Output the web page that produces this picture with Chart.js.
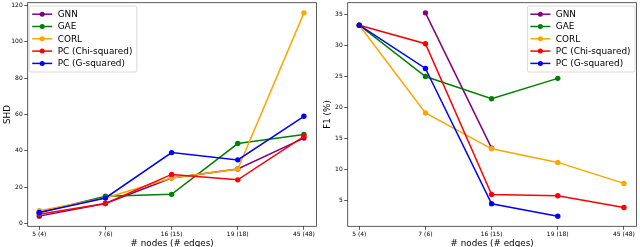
<!DOCTYPE html>
<html>
<head>
<meta charset="utf-8">
<script src="https://cdn.jsdelivr.net/npm/chart.js@4.4.0/dist/chart.umd.min.js"></script>
<style>
  body { margin: 0; background: #fff; }
  .panel { position: absolute; top: 0; width: 320px; height: 247px; }
</style>
</head>
<body>
<div class="panel" style="left:0"><canvas id="shd-chart" width="320" height="247"></canvas></div>
<div class="panel" style="left:320px"><canvas id="f1-chart" width="320" height="247"></canvas></div>
<script>
const categories = ['5 (4)', '7 (6)', '16 (15)', '19 (18)', '45 (48)'];
const methodNames = ['GNN', 'GAE', 'CORL', 'PC (Chi-squared)', 'PC (G-squared)'];
const methodColors = ['purple', 'green', 'orange', 'red', 'blue'];

// SHD per method
const shdGnn = [4, 11, 25, 30, 47];
const shdGae = [6, 15, 16, 44, 49];
const shdCorl = [7, 14, 25, 30, 116];
const shdPcChi = [5, 11, 27, 24, 48];
const shdPcG = [6, 14, 39, 35, 59];

// F1 (%) per method, null = no result
const f1Gnn = [null, 35.3, 13.4, null, null];
const f1Gae = [33.3, 25.0, 21.4, 24.7, null];
const f1Corl = [33.3, 19.1, 13.3, 11.1, 7.7];
const f1PcChi = [33.3, 30.3, 5.9, 5.7, 3.8];
const f1PcG = [33.3, 26.3, 4.4, 2.4, null];

const shdTicks = [0, 20, 40, 60, 80, 100, 120];
const f1Ticks = [5, 10, 15, 20, 25, 30, 35];

const FONT = 'DejaVu Sans';

// frame around the plot + boxed legend with line/marker handles
const frameLegendPlugin = {
  id: 'frameLegend',
  afterDatasetsDraw(chart, args, opts) {
    const { ctx, chartArea } = chart;
    ctx.save();
    ctx.strokeStyle = '#333';
    ctx.lineWidth = 0.8;
    ctx.strokeRect(chartArea.left, chartArea.top,
      chartArea.right - chartArea.left, chartArea.bottom - chartArea.top);

    ctx.font = '8.9px "' + FONT + '"';
    const labels = chart.data.datasets.map((ds) => ds.label);
    const textW = Math.max(...labels.map((l) => ctx.measureText(l).width));
    const boxW = 28.5 + textW + 4.5;
    const boxH = 66;
    const boxX = opts.side === 'left' ? chartArea.left + 1.5 : chartArea.right - 1.5 - boxW;
    const boxY = chartArea.top + 3.3;

    ctx.fillStyle = 'rgba(255,255,255,0.8)';
    ctx.strokeStyle = '#d0d0d0';
    ctx.lineWidth = 0.8;
    ctx.beginPath();
    ctx.roundRect(boxX, boxY, boxW, boxH, 2);
    ctx.fill();
    ctx.stroke();

    chart.data.datasets.forEach((ds, i) => {
      const y = boxY + 8.2 + i * 12.3;
      ctx.strokeStyle = ds.borderColor;
      ctx.lineWidth = 1.5;
      ctx.beginPath();
      ctx.moveTo(boxX + 3, y);
      ctx.lineTo(boxX + 23, y);
      ctx.stroke();
      ctx.fillStyle = ds.borderColor;
      ctx.beginPath();
      ctx.arc(boxX + 13, y, 2.5, 0, Math.PI * 2);
      ctx.fill();
      ctx.fillStyle = '#000';
      ctx.textBaseline = 'middle';
      ctx.textAlign = 'left';
      ctx.fillText(ds.label, boxX + 28.5, y + 0.5);
    });
    ctx.restore();
  },
};

function buildDatasets(seriesList) {
  return seriesList.map((values, i) => ({
    label: methodNames[i],
    data: values.map((v, idx) => ({ x: idx, y: v })),
    borderColor: methodColors[i],
    backgroundColor: methodColors[i],
    borderWidth: 1.5,
    pointRadius: 2.7,
    pointHoverRadius: 2.7,
    pointBorderWidth: 0,
    order: seriesList.length - i,
  }));
}

function makeChart(canvasId, seriesList, yTicks, yMin, yMax, yTitle, legendSide) {
  return new Chart(document.getElementById(canvasId), {
    type: 'line',
    data: { datasets: buildDatasets(seriesList) },
    plugins: [frameLegendPlugin],
    options: {
      responsive: false,
      animation: false,
      devicePixelRatio: 1,
      layout: { padding: { top: 1.7, right: 3.5, left: 0, bottom: 0 } },
      plugins: {
        legend: { display: false },
        tooltip: { enabled: false },
        frameLegend: { side: legendSide },
      },
      scales: {
        x: {
          type: 'linear',
          min: -0.175,
          max: 4.19,
          afterBuildTicks: (scale) => {
            scale.ticks = categories.map((c, i) => ({ value: i }));
          },
          afterFit: (scale) => {
            scale.height = 20.7;
            scale.paddingLeft = 0;
            scale.paddingRight = 0;
          },
          ticks: {
            callback: (value) => categories[value],
            font: { family: FONT, size: 6 },
            color: '#000',
            padding: 1.5,
            maxRotation: 0,
            autoSkip: false,
          },
          grid: {
            drawOnChartArea: false,
            drawTicks: true,
            tickLength: 3.5,
            tickColor: '#333',
            tickWidth: 0.8,
          },
          border: { display: false },
          title: {
            display: true,
            text: '# nodes (# edges)',
            font: { family: FONT, size: 8.8, lineHeight: 0.8 },
            color: '#000',
            padding: 0,
          },
        },
        y: {
          min: yMin,
          max: yMax,
          afterBuildTicks: (scale) => {
            scale.ticks = yTicks.map((v) => ({ value: v }));
          },
          afterFit: (scale) => {
            scale.width = 27.7;
            scale.paddingTop = 0;
            scale.paddingBottom = 0;
          },
          ticks: {
            font: { family: FONT, size: 6 },
            color: '#000',
            padding: 1.5,
          },
          grid: {
            drawOnChartArea: false,
            drawTicks: true,
            tickLength: 3.5,
            tickColor: '#333',
            tickWidth: 0.8,
          },
          border: { display: false },
          title: {
            display: true,
            text: yTitle,
            font: { family: FONT, size: 8.8 },
            color: '#000',
            padding: { top: 2.3, bottom: 0 },
          },
        },
      },
    },
  });
}

makeChart('shd-chart', [shdGnn, shdGae, shdCorl, shdPcChi, shdPcG],
  shdTicks, -1.6, 121.6, 'SHD', 'left');
makeChart('f1-chart', [f1Gnn, f1Gae, f1Corl, f1PcChi, f1PcG],
  f1Ticks, 0.76, 36.94, 'F1 (%)', 'right');
</script>
</body>
</html>
